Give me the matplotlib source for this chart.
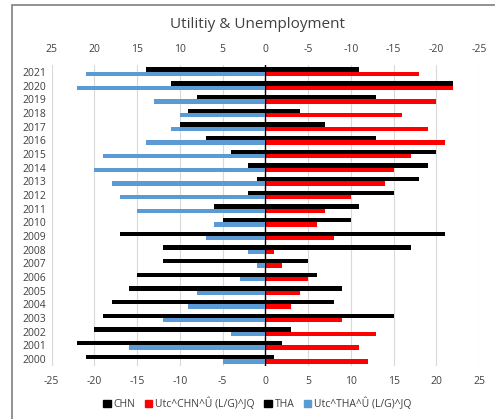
import matplotlib
matplotlib.use("Agg")
import matplotlib.pyplot as plt
from matplotlib.patches import Rectangle, Patch
import numpy as np

plt.rcParams['font.family'] = ['Open Sans', 'DejaVu Sans']
plt.rcParams['axes.unicode_minus'] = False

years = list(range(2000, 2022))
chn = [1, 2, 3, 15, 8, 9, 6, 5, 17, 21, 10, 11, 15, 18, 19, 20, 13, 7, 4, 13, 22, 11]
utc_chn = [12, 11, 13, 9, 3, 4, 5, 2, 1, 8, 6, 7, 10, 14, 15, 17, 21, 19, 16, 20, 22, 18]
tha = [21, 22, 20, 19, 18, 16, 15, 12, 12, 17, 5, 6, 2, 1, 2, 4, 7, 10, 9, 8, 11, 14]
utc_tha = [5, 16, 4, 12, 9, 8, 3, 1, 2, 7, 6, 15, 17, 18, 20, 19, 14, 11, 10, 13, 22, 21]

labels = ["CHN", "Utc^CHN^Û (L/G)^JQ", "THA", "Utc^THA^Û (L/G)^JQ"]
colors = ["#000000", "#FF0000", "#000000", "#5B9BD5"]

W, H = 495, 419
fig = plt.figure(figsize=(W / 100, H / 100), dpi=100)

# outer chart border
fig.patches.append(Rectangle((12 / W, -0.1), 1.0, (H - 5) / H + 0.1,
                             transform=fig.transFigure, fill=False,
                             edgecolor="#7f7f7f", lw=1.2))

left, right, top, bottom = 51.7, 479, 65, 366
ax = fig.add_axes([left / W, (H - bottom) / H, (right - left) / W, (bottom - top) / H])
ax2 = ax.twiny()

y = np.arange(len(years))
bh = 0.32
off = 0.16

ax.barh(y + off, chn, height=bh, color=colors[0], zorder=3)
ax.barh(y - off, utc_chn, height=bh, color=colors[1], zorder=3)
ax2.barh(y + off, tha, height=bh, color=colors[2], zorder=3)
ax2.barh(y - off, utc_tha, height=bh, color=colors[3], zorder=3)

ax.set_xlim(-25, 25)
ax2.set_xlim(25, -25)
ax.set_ylim(-0.5, len(years) - 0.5)

ticks = np.arange(-25, 26, 5)
ax.set_xticks(ticks)
ax.set_xticklabels([str(t) for t in ticks])
ax2.set_xticks(ticks)
ax2.set_xticklabels([str(t) for t in ticks])

ax.set_yticks(y)
ax.set_yticklabels([str(v) for v in years])

for a in (ax, ax2):
    for s in a.spines.values():
        s.set_visible(False)
    a.tick_params(length=0, labelsize=7.5, labelcolor="#404040", pad=7)
ax.tick_params(axis='y', pad=4)

for t in ticks:
    ax.axvline(t, color="#d9d9d9", lw=0.8, zorder=1)
ax.axvline(0, color="#000000", lw=1.0, zorder=4)

fig.text(0.52, (H - 25) / H, "Utilitiy & Unemployment", ha="center", va="center",
         fontsize=11, color="#404040")

handles = [Patch(color=c) for c in colors]
fig.legend(handles, labels, loc="center", bbox_to_anchor=(0.52, (H - 404) / H),
           ncol=4, frameon=False, fontsize=7.5, handlelength=0.7, handleheight=0.7,
           columnspacing=0.9, handletextpad=0.3, labelcolor="#404040")

fig.savefig("out.png", dpi=100)
